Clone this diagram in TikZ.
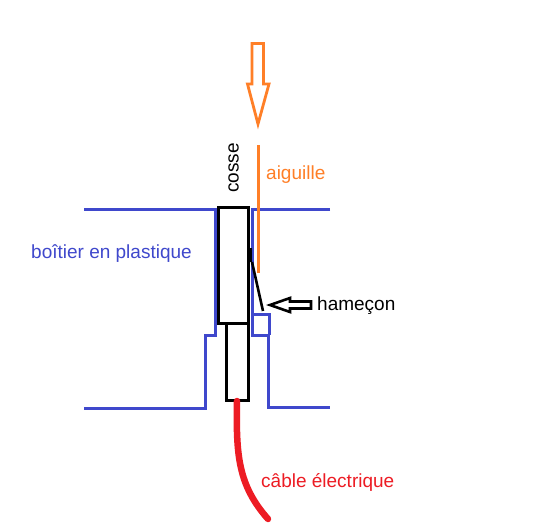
\documentclass[tikz,border=0pt]{standalone}
\usepackage{fontspec}
\setmainfont{Liberation Sans}
\definecolor{bleu}{RGB}{63,72,204}
\definecolor{orng}{RGB}{255,127,39}
\definecolor{rouge}{RGB}{237,28,36}
\tikzset{
  plastic/.style={draw=bleu,line width=3pt,miter limit=2},
  metal/.style={draw=black,line width=3pt,inner sep=0pt,outer sep=0pt,anchor=north west},
  needle/.style={draw=orng,line width=3pt},
  lbl/.style={inner sep=0pt,font=\fontsize{19}{21}\selectfont},
}
\begin{document}
\begin{tikzpicture}[x=1pt,y=-1pt]
\useasboundingbox (0,0) rectangle (557,527);
\fill[white] (0,0) rectangle (557,527);
% plastic housing
\draw[plastic] (84,209) -- (215,209) -- (215,335) -- (205,335) -- (205,408) -- (84,408);
\draw[plastic] (330,209.5) -- (252,209.5) -- (252,335) -- (268,335) -- (268,407) -- (330,407);
\draw[plastic] (252,314.5) -- (269.5,314.5) -- (269.5,335);
% cosse
\node[metal,minimum width=30.5pt,minimum height=115.5pt] (cosse) at (218,207.5) {};
\node[metal,minimum width=22.5pt,minimum height=77pt] (tige) at (226,323) {};
% needle
\draw[needle] (258,145) -- (258,273);
\draw[draw=orng,line width=2.8pt,miter limit=10] (252,43.5) -- (263.5,43.5) -- (263.5,84) -- (269,84) -- (258,124) -- (247.5,84) -- (252,84) -- cycle;
% hook
\draw[black,line width=3pt] (250,248) -- (250,262);
\draw[black,line width=2.6pt] (252,262) -- (263,311);
% hook arrow
\draw[black,line width=2.6pt] (311,301.5) -- (290,301.5) -- (290,298) -- (270,305) -- (290,312) -- (290,308.5) -- (311,308.5) -- cycle;
% cable
\draw[rouge,line width=6.5pt,line cap=round] (237,401) .. controls (236,455) and (238,485) .. (268,519);
% labels
\node[lbl,rotate=90,text=black] (lc) at (233.5,168) {cosse};
\node[lbl,text=orng,anchor=west] (la) at (266,175) {aiguille};
\node[lbl,text=bleu,anchor=west] (lb) at (31,254) {boîtier en plastique};
\node[lbl,text=black,anchor=west] (lh) at (317,306) {hameçon};
\node[lbl,text=rouge,anchor=west] (lk) at (261,482) {câble électrique};
\end{tikzpicture}
\end{document}
